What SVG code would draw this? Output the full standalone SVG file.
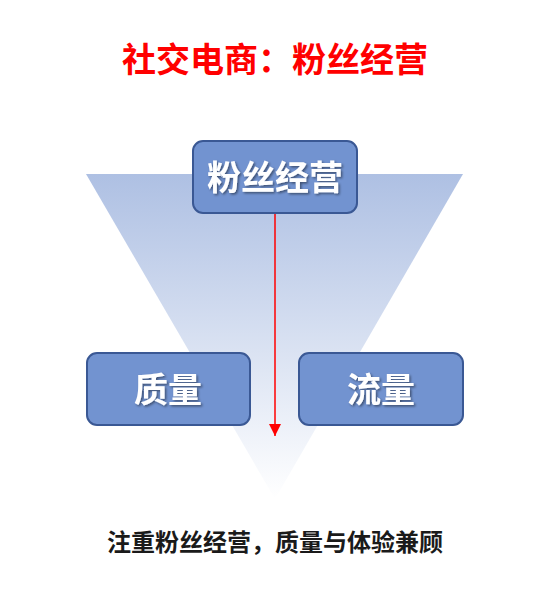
<svg xmlns="http://www.w3.org/2000/svg" width="550" height="595" viewBox="0 0 550 595">
<defs>
<linearGradient id="tri" x1="0" y1="0" x2="0" y2="1">
<stop offset="0" stop-color="#AEC0E3"/>
<stop offset="1" stop-color="#FFFFFF"/>
</linearGradient>
<filter id="sh" x="-20%" y="-20%" width="140%" height="140%">
<feDropShadow dx="1.5" dy="1.5" stdDeviation="1" flood-color="#000" flood-opacity="0.45"/>
</filter>
<marker id="arr" viewBox="0 0 10 10" refX="10" refY="5" markerWidth="12" markerHeight="12" markerUnits="userSpaceOnUse" orient="auto">
<path d="M0,0 L10,5 L0,10 z" fill="#FF0000"/>
</marker>
<style>
.box{fill:#7293D0;stroke:#3A5894;stroke-width:2}
.bt{font-family:"Noto Sans CJK SC",sans-serif;font-weight:bold;font-size:34px;fill:#FFFFFF;text-anchor:middle;filter:url(#sh)}
</style>
</defs>
<rect width="550" height="595" fill="#FFFFFF"/>
<polygon points="86,174 463,174 275,499" fill="url(#tri)"/>
<text x="275" y="72" font-family="Noto Sans CJK SC, sans-serif" font-weight="bold" font-size="34" fill="#FF0000" text-anchor="middle">社交电商：粉丝经营</text>
<g id="connectors">
<line x1="275" y1="213" x2="275" y2="436" stroke="#FF0000" stroke-width="1.5" marker-end="url(#arr)"/>
</g>
<g id="node-fans">
<rect class="box" x="193" y="141" width="164" height="72" rx="10"/>
<text class="bt" x="275" y="190">粉丝经营</text>
</g>
<g id="node-quality">
<rect class="box" x="87" y="353" width="163" height="72" rx="10"/>
<text class="bt" x="168" y="402">质量</text>
</g>
<g id="node-traffic">
<rect class="box" x="299" y="353" width="164" height="72" rx="10"/>
<text class="bt" x="381" y="402">流量</text>
</g>
<text x="275" y="551" font-family="Noto Sans CJK SC, sans-serif" font-weight="bold" font-size="24" fill="#1A1A1A" text-anchor="middle">注重粉丝经营，质量与体验兼顾</text>
</svg>
